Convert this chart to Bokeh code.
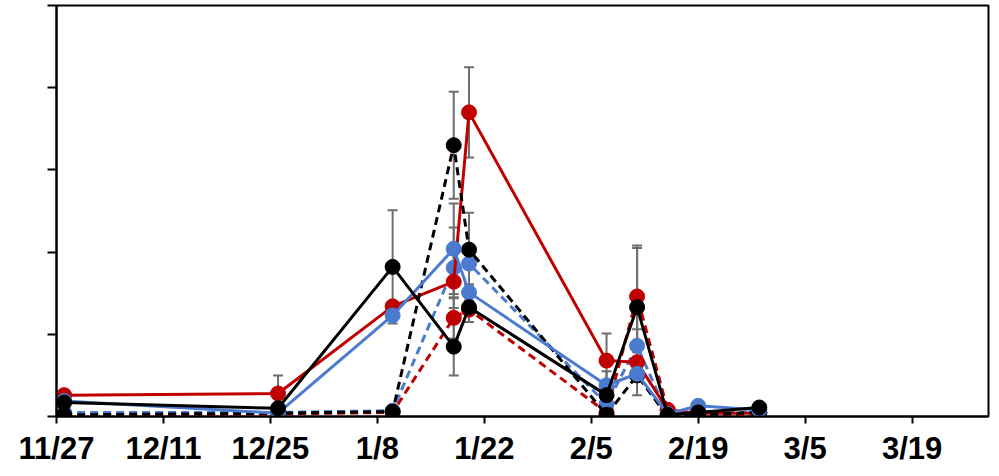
import pandas as pd
from bokeh.plotting import figure
from bokeh.models import ColumnDataSource, Whisker, TeeHead, FixedTicker, Range1d
from bokeh.embed import file_html
from bokeh.resources import INLINE

# ---- data -------------------------------------------------------------
origin_date = "2018-11-27"
end_date = "2019-03-29"
sample_dates = ["2018-11-28", "2018-12-26", "2019-01-10", "2019-01-18", "2019-01-20",
                "2019-02-07", "2019-02-11", "2019-02-15", "2019-02-19", "2019-02-27"]
tick_dates = ["2018-11-27", "2018-12-11", "2018-12-25", "2019-01-08", "2019-01-22",
              "2019-02-05", "2019-02-19", "2019-03-05", "2019-03-19"]
tick_labels = ["11/27", "12/11", "12/25", "1/8", "1/22", "2/5", "2/19", "3/5", "3/19"]
y_ticks = [0, 1, 2, 3, 4, 5]

red_solid = [0.26, 0.28, 1.34, 1.64, 3.70, 0.68, 0.66, 0.08, 0.04, 0.04]
blue_solid = [0.19, 0.04, 1.23, 2.04, 1.51, 0.38, 0.52, 0.03, 0.13, 0.08]
black_solid = [0.17, 0.10, 1.82, 0.85, 1.33, 0.26, 1.33, 0.02, 0.05, 0.11]
red_dashed = [0.01, 0.03, 0.05, 1.20, 1.30, 0.05, 1.46, 0.08, 0.03, 0.00]
blue_dashed = [0.05, 0.05, 0.07, 1.81, 1.86, 0.15, 0.86, 0.02, 0.06, 0.05]
black_dashed = [0.02, 0.04, 0.06, 3.30, 2.03, 0.02, 0.50, 0.00, 0.02, 0.05]

red_solid_err = [0, 0.22, 0, 0.20, 0.55, 0.33, 0.40, 0, 0, 0]
blue_solid_err = [0, 0, 0, 0.55, 0.10, 0.17, 0, 0, 0, 0]
black_solid_err = [0, 0, 0.69, 0.35, 0, 0, 0.72, 0, 0, 0]
red_dashed_err = [0, 0, 0, 0.25, 0.15, 0, 0.62, 0, 0, 0]
blue_dashed_err = [0, 0, 0, 0.49, 0, 0, 0.42, 0, 0, 0]
black_dashed_err = [0, 0, 0, 0.65, 0.45, 0, 0, 0, 0, 0]

RED = "#C00000"
BLUE = "#4A7BCF"
BLACK = "#000000"
GRAY = "#6E6E6E"

# ---- helpers ----------------------------------------------------------
t0 = pd.Timestamp(origin_date)


def days(ds):
    return [(pd.Timestamp(d) - t0).days for d in ds]


x = days(sample_dates)
xt = days(tick_dates)
x_end = (pd.Timestamp(end_date) - t0).days

p = figure(width=993, height=470, output_backend="svg", toolbar_location=None,
           x_range=Range1d(0, x_end), y_range=Range1d(0, 5),
           min_border_left=56, min_border_right=5, min_border_top=5,
           min_border_bottom=54)

p.xgrid.visible = False
p.ygrid.visible = False
p.outline_line_color = "black"
p.outline_line_width = 2
p.background_fill_color = "white"
p.border_fill_color = "white"

series = [
    (red_dashed, red_dashed_err, RED, "dashed"),
    (blue_dashed, blue_dashed_err, BLUE, "dashed"),
    (red_solid, red_solid_err, RED, "solid"),
    (black_dashed, black_dashed_err, BLACK, "dashed"),
    (blue_solid, blue_solid_err, BLUE, "solid"),
    (black_solid, black_solid_err, BLACK, "solid"),
]

# error bars (under everything)
for vals, errs, col, dash in series:
    xs = [xi for xi, e in zip(x, errs) if e > 0]
    lo = [v - e for v, e in zip(vals, errs) if e > 0]
    hi = [v + e for v, e in zip(vals, errs) if e > 0]
    if not xs:
        continue
    src = ColumnDataSource(dict(x=xs, lower=lo, upper=hi))
    w = Whisker(source=src, base="x", lower="lower", upper="upper",
                dimension="height", line_color=GRAY, line_width=2,
                upper_head=TeeHead(size=10, line_color=GRAY, line_width=2),
                lower_head=TeeHead(size=10, line_color=GRAY, line_width=2))
    p.add_layout(w)

for vals, errs, col, dash in series:
    src = ColumnDataSource(dict(x=x, y=vals))
    p.line("x", "y", source=src, line_color=col, line_width=3,
           line_dash=("8 5" if dash == "dashed" else "solid"))
    p.scatter("x", "y", source=src, size=15, fill_color=col, line_color=col)

# axes
p.xaxis.ticker = FixedTicker(ticks=xt)
p.xaxis.major_label_overrides = {t: lab for t, lab in zip(xt, tick_labels)}
p.xaxis.major_label_text_font = "Liberation Sans"
p.xaxis.major_label_text_font_style = "bold"
p.xaxis.major_label_text_font_size = "31px"
p.xaxis.major_label_text_color = "black"
p.xaxis.major_label_standoff = 7
p.xaxis.axis_line_width = 2
p.xaxis.major_tick_line_width = 2
p.xaxis.major_tick_out = 7
p.xaxis.major_tick_in = 0
p.xaxis.minor_tick_line_color = None

p.yaxis.ticker = FixedTicker(ticks=y_ticks)
p.yaxis.major_label_overrides = {t: "" for t in y_ticks}
p.yaxis.axis_line_width = 2
p.yaxis.major_tick_line_width = 2
p.yaxis.major_tick_out = 9
p.yaxis.major_tick_in = 0
p.yaxis.minor_tick_line_color = None

open("out.html", "w").write(file_html(p, INLINE))
